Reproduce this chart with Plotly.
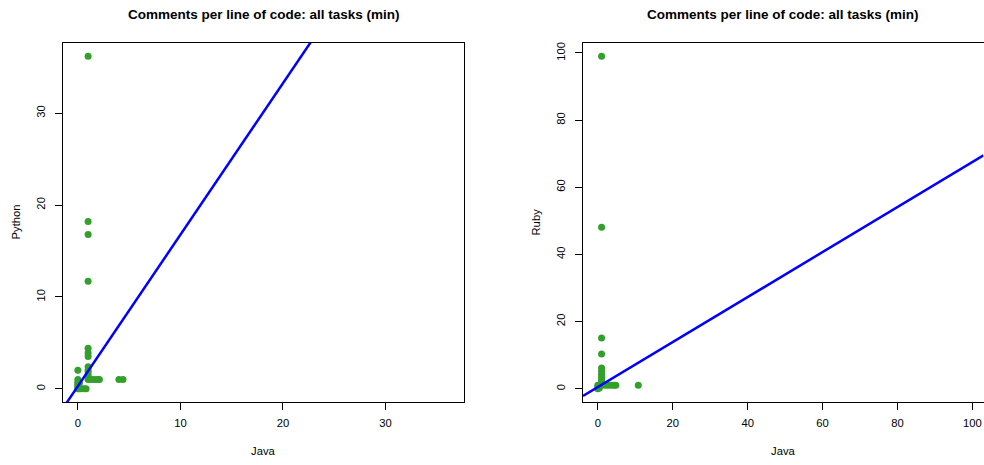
import numpy as np
import plotly.graph_objects as go

# ---- data ----
title_text = "Comments per line of code: all tasks (min)"

java_py = [1, 1, 1, 1, 1, 1, 1, 1, 1, 1, 1, 1, 1.3, 1.6, 1.9, 2.1, 4.0, 4.4,
           0, 0, 0, 0, 0, 0, 0, 0.3, 0.6, 0.8, 0.15, 0.1]
python = [36.2, 18.2, 16.8, 11.7, 4.4, 3.9, 3.5, 2.4, 2.0, 1.7, 1.4, 1.0, 1.0, 1.0, 1.0, 1.0, 1.0, 1.0,
          2.0, 1.0, 0.7, 0.5, 0.3, 0.1, 0.0, 0.0, 0.0, 0.0, 0.6, 0.0]
fit_py = [0.27, 1.65]  # intercept, slope

java_rb = [1, 1, 1, 1, 1, 1, 1, 1, 1, 1, 1, 0, 0, 0, 0.4, 0.3, 2, 2.8, 3.6, 4.3, 4.8, 10.8, 0.2]
ruby = [99.0, 48.1, 15.1, 10.3, 6.2, 5.2, 4.2, 3.3, 2.5, 1.8, 1.0, 1.0, 0.5, 0.0, 0.2, 1.0, 1.0, 1.0,
        1.0, 1.0, 1.0, 1.0, 0.8]
fit_rb = [0.5, 0.67]

ticks_py = [0, 10, 20, 30]
ticks_rb = [0, 20, 40, 60, 80, 100]

GREEN = "#33A02C"
BLUE = "#0000FF"
FONT = "Liberation Sans, Arial, Helvetica, sans-serif"

def rng(a, b):
    lo = min(min(a), min(b))
    hi = max(max(a), max(b))
    pad = 0.04 * (hi - lo)
    return [lo - pad, hi + pad]

fig = go.Figure()

panels = [
    (java_py, python, fit_py, ticks_py, "Python", "x", "y", [63 / 984, 464 / 984]),
    (java_rb, ruby, fit_rb, ticks_rb, "Ruby", "x2", "y2", [583 / 984, 983.5 / 984]),
]

ydom = [(465 - 402) / 465, (465 - 43) / 465]

for i, (xs, ys, fit, ticks, ylab, xa, ya, xdom) in enumerate(panels):
    r = rng(xs, ys)
    fig.add_trace(go.Scatter(x=xs, y=ys, mode="markers", xaxis=xa, yaxis=ya,
                             marker=dict(color=GREEN, size=7, line=dict(width=0)),
                             showlegend=False, hoverinfo="x+y"))
    lx = np.array(r)
    ly = fit[0] + fit[1] * lx
    fig.add_trace(go.Scatter(x=lx, y=ly, mode="lines", xaxis=xa, yaxis=ya,
                             line=dict(color=BLUE, width=2.5), showlegend=False,
                             hoverinfo="skip"))
    suffix = "" if i == 0 else "2"
    axcommon = dict(range=r, showgrid=False, zeroline=False, showline=True,
                    linecolor="black", linewidth=1, mirror=True, ticks="outside",
                    ticklen=7, tickwidth=1, tickcolor="black", tickvals=ticks,
                    ticktext=[str(t) for t in ticks],
                    tickfont=dict(family=FONT, size=11.25, color="black"))
    fig.update_layout(**{
        "xaxis" + suffix: dict(domain=xdom, anchor=ya, ticklabelstandoff=3, **axcommon),
        "yaxis" + suffix: dict(domain=ydom, anchor=xa, tickangle=-90, ticklabelstandoff=6, **axcommon),
    })
    xc = (xdom[0] + xdom[1]) / 2
    fig.add_annotation(text="<b>" + title_text + "</b>", x=xc, y=1 - 15 / 465,
                       xref="paper", yref="paper", showarrow=False,
                       font=dict(family=FONT, size=13.5, color="black"),
                       xanchor="center", yanchor="middle")
    fig.add_annotation(text="Java", x=xc, y=1 - 451 / 465, xref="paper", yref="paper",
                       showarrow=False, font=dict(family=FONT, size=11.25, color="black"),
                       xanchor="center", yanchor="middle")
    fig.add_annotation(text=ylab, x=(15 if i == 0 else 535) / 984,
                       y=(ydom[0] + ydom[1]) / 2, xref="paper", yref="paper",
                       showarrow=False, textangle=-90,
                       font=dict(family=FONT, size=11.25, color="black"),
                       xanchor="center", yanchor="middle")

fig.update_layout(width=984, height=465, margin=dict(l=0, r=0, t=0, b=0),
                  paper_bgcolor="white", plot_bgcolor="white")

fig.write_html("out.html", config={"displayModeBar": False},
               post_script="document.body.style.margin='0';document.body.style.overflow='hidden';")
